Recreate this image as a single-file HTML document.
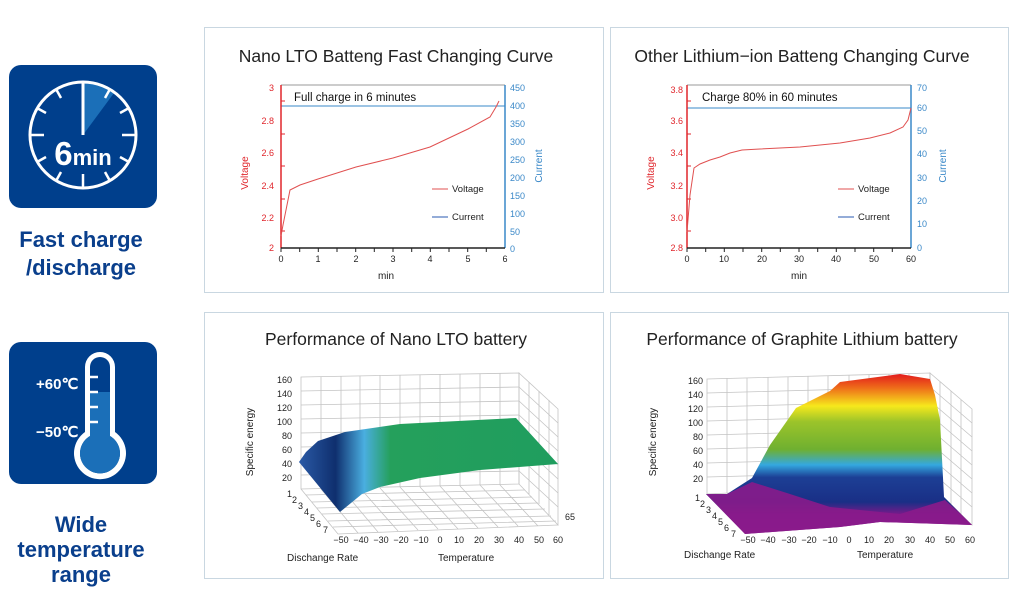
<!DOCTYPE html>
<html><head><meta charset="utf-8"><style>
html,body{margin:0;padding:0;background:#fff;}
body{width:1024px;height:600px;position:relative;overflow:hidden;font-family:"Liberation Sans",Arial,sans-serif;}
svg{position:absolute;left:0;top:0;}
</style></head><body>
<svg width="1024" height="600" viewBox="0 0 1024 600" font-family="Liberation Sans, Arial, sans-serif">
<defs>
<linearGradient id="g3" x1="299" y1="0" x2="560" y2="0" gradientUnits="userSpaceOnUse">
<stop offset="0" stop-color="#2a5aa6"/><stop offset="0.14" stop-color="#0f2f6e"/><stop offset="0.25" stop-color="#4aaee0"/><stop offset="0.35" stop-color="#25a05c"/><stop offset="1" stop-color="#1f9d5e"/>
</linearGradient>
<linearGradient id="g4" x1="0" y1="375" x2="0" y2="530" gradientUnits="userSpaceOnUse">
<stop offset="0" stop-color="#e3201c"/><stop offset="0.08" stop-color="#ee6a1a"/><stop offset="0.2" stop-color="#f6e81c"/><stop offset="0.3" stop-color="#9cc42a"/><stop offset="0.48" stop-color="#6fb030"/><stop offset="0.58" stop-color="#34a8e0"/><stop offset="0.66" stop-color="#1c3f95"/><stop offset="0.82" stop-color="#1a2f86"/><stop offset="0.9" stop-color="#7a1a8a"/><stop offset="1" stop-color="#8c1a8c"/>
</linearGradient>
</defs>

<!-- left icons -->
<rect x="9" y="65" width="148" height="143" rx="12" fill="#003f8c"/>
<path d="M83 135 L83 83 A52 52 0 0 1 114 93 Z" fill="#1b6fb8"/>
<circle cx="83" cy="135" r="53" fill="none" stroke="#fff" stroke-width="3"/>
<line x1="83" y1="83" x2="83" y2="135" stroke="#fff" stroke-width="3"/>
<g stroke="#fff" stroke-width="2.5">
<line x1="83" y1="82" x2="83" y2="96"/><line x1="83" y1="174" x2="83" y2="188"/>
<line x1="30" y1="135" x2="44" y2="135"/><line x1="122" y1="135" x2="136" y2="135"/>
<line x1="56" y1="89" x2="61" y2="98"/><line x1="110" y1="89" x2="105" y2="98"/>
<line x1="37" y1="108" x2="46" y2="113"/><line x1="129" y1="108" x2="120" y2="113"/>
<line x1="37" y1="162" x2="46" y2="157"/><line x1="129" y1="162" x2="120" y2="157"/>
<line x1="56" y1="181" x2="61" y2="172"/><line x1="110" y1="181" x2="105" y2="172"/>
</g>
<text x="83" y="165" text-anchor="middle" fill="#fff" font-weight="bold" font-size="33">6<tspan font-size="22">min</tspan></text>
<text x="81" y="247" text-anchor="middle" fill="#0a3f8c" font-weight="bold" font-size="22">Fast charge</text>
<text x="81" y="275" text-anchor="middle" fill="#0a3f8c" font-weight="bold" font-size="22">/discharge</text>

<rect x="9" y="342" width="148" height="142" rx="12" fill="#003f8c"/>
<path d="M85 367 A15 15 0 0 1 115 367 L115 432 A26 26 0 1 1 85 432 Z" fill="#fff"/>
<path d="M90 367 A10 10 0 0 1 110 367 L110 436 A20 20 0 1 1 90 436 Z" fill="#003f8c"/>
<path d="M90 392 L110 392 L110 436 A20 20 0 1 1 90 436 Z" fill="#1b6fb8"/>
<g stroke="#fff" stroke-width="2.5"><line x1="88" y1="377" x2="98" y2="377"/><line x1="88" y1="392" x2="98" y2="392"/><line x1="88" y1="407" x2="98" y2="407"/><line x1="88" y1="422" x2="98" y2="422"/></g>
<text x="36" y="389" fill="#fff" font-weight="bold" font-size="15">+60℃</text>
<text x="36" y="437" fill="#fff" font-weight="bold" font-size="15">−50℃</text>
<text x="81" y="532" text-anchor="middle" fill="#0a3f8c" font-weight="bold" font-size="22">Wide</text>
<text x="81" y="557" text-anchor="middle" fill="#0a3f8c" font-weight="bold" font-size="22">temperature</text>
<text x="81" y="582" text-anchor="middle" fill="#0a3f8c" font-weight="bold" font-size="22">range</text>

<!-- panels -->
<g fill="#fff" stroke="#c9d7e1" stroke-width="1">
<rect x="204.5" y="27.5" width="399" height="265"/><rect x="610.5" y="27.5" width="398" height="265"/>
<rect x="204.5" y="312.5" width="399" height="266"/><rect x="610.5" y="312.5" width="398" height="266"/>
</g>

<!-- chart 1 -->
<text x="396" y="62" text-anchor="middle" font-size="17.5" fill="#222">Nano LTO Batteng Fast Changing Curve</text>
<line x1="281" y1="85" x2="505" y2="85" stroke="#bbb" stroke-width="1.5"/>
<line x1="281" y1="106" x2="505" y2="106" stroke="#3a88c8" stroke-width="1"/>
<text x="294" y="101" font-size="11.5" fill="#111">Full charge in 6 minutes</text>
<line x1="281" y1="85" x2="281" y2="248" stroke="#e0262c" stroke-width="1.5"/>
<line x1="505" y1="85" x2="505" y2="248" stroke="#3a88c8" stroke-width="1.5"/>
<line x1="281" y1="248" x2="505" y2="248" stroke="#222" stroke-width="1.5"/>
<g font-size="9" fill="#e0262c" text-anchor="end">
<text x="274" y="91">3</text><text x="274" y="124">2.8</text><text x="274" y="156">2.6</text><text x="274" y="189">2.4</text><text x="274" y="221">2.2</text><text x="274" y="251">2</text>
</g>
<g stroke="#e0262c" stroke-width="1"><line x1="281" y1="101" x2="285" y2="101"/><line x1="281" y1="134" x2="285" y2="134"/><line x1="281" y1="166" x2="285" y2="166"/><line x1="281" y1="199" x2="285" y2="199"/><line x1="281" y1="231" x2="285" y2="231"/></g>
<g font-size="9" fill="#3a88c8">
<text x="510" y="91">450</text><text x="510" y="109">400</text><text x="510" y="127">350</text><text x="510" y="145">300</text><text x="510" y="163">250</text><text x="510" y="181">200</text><text x="510" y="199">150</text><text x="510" y="217">100</text><text x="510" y="235">50</text><text x="510" y="252">0</text>
</g>
<g stroke="#222"><line x1="281" y1="248" x2="281" y2="252"/><line x1="299.7" y1="248" x2="299.7" y2="252"/><line x1="318.3" y1="248" x2="318.3" y2="252"/><line x1="337" y1="248" x2="337" y2="252"/><line x1="355.7" y1="248" x2="355.7" y2="252"/><line x1="374.3" y1="248" x2="374.3" y2="252"/><line x1="393" y1="248" x2="393" y2="252"/><line x1="411.7" y1="248" x2="411.7" y2="252"/><line x1="430.3" y1="248" x2="430.3" y2="252"/><line x1="449" y1="248" x2="449" y2="252"/><line x1="467.7" y1="248" x2="467.7" y2="252"/><line x1="486.3" y1="248" x2="486.3" y2="252"/></g>
<g font-size="9" fill="#222" text-anchor="middle"><text x="281" y="262">0</text><text x="318" y="262">1</text><text x="356" y="262">2</text><text x="393" y="262">3</text><text x="430" y="262">4</text><text x="468" y="262">5</text><text x="505" y="262">6</text></g>
<text x="386" y="279" text-anchor="middle" font-size="10" fill="#222">min</text>
<text transform="translate(248,173) rotate(-90)" text-anchor="middle" font-size="10" fill="#e0262c">Voltage</text>
<text transform="translate(542,166) rotate(-90)" text-anchor="middle" font-size="10" fill="#3a88c8">Current</text>
<line x1="432" y1="189" x2="448" y2="189" stroke="#e05050"/><text x="452" y="192" font-size="9.5" fill="#222">Voltage</text>
<line x1="432" y1="217" x2="448" y2="217" stroke="#2a5ab0"/><text x="452" y="220" font-size="9.5" fill="#222">Current</text>
<path d="M281 236 L283 225 L288 200 L290 190 L300 185 L318 179 L356 167 L393 158 L430 147 L468 129 L490 117 L496 107 L499 101" fill="none" stroke="#e05050" stroke-width="1"/>

<!-- chart 2 -->
<text x="802" y="62" text-anchor="middle" font-size="17.5" fill="#222">Other Lithium−ion Batteng Changing Curve</text>
<line x1="687" y1="85" x2="911" y2="85" stroke="#bbb" stroke-width="1.5"/>
<line x1="687" y1="108" x2="911" y2="108" stroke="#3a88c8" stroke-width="1"/>
<text x="702" y="101" font-size="11.5" fill="#111">Charge 80% in 60 minutes</text>
<line x1="687" y1="85" x2="687" y2="248" stroke="#e0262c" stroke-width="1.5"/>
<line x1="911" y1="85" x2="911" y2="248" stroke="#3a88c8" stroke-width="1.5"/>
<line x1="687" y1="248" x2="911" y2="248" stroke="#222" stroke-width="1.5"/>
<g font-size="9" fill="#e0262c" text-anchor="end">
<text x="683" y="93">3.8</text><text x="683" y="124">3.6</text><text x="683" y="156">3.4</text><text x="683" y="189">3.2</text><text x="683" y="221">3.0</text><text x="683" y="251">2.8</text>
</g>
<g stroke="#e0262c"><line x1="687" y1="101" x2="691" y2="101"/><line x1="687" y1="134" x2="691" y2="134"/><line x1="687" y1="166" x2="691" y2="166"/><line x1="687" y1="199" x2="691" y2="199"/><line x1="687" y1="231" x2="691" y2="231"/></g>
<g font-size="9" fill="#3a88c8">
<text x="917" y="91">70</text><text x="917" y="111">60</text><text x="917" y="134">50</text><text x="917" y="157">40</text><text x="917" y="181">30</text><text x="917" y="204">20</text><text x="917" y="227">10</text><text x="917" y="251">0</text>
</g>
<g stroke="#222"><line x1="687" y1="248" x2="687" y2="252"/><line x1="705.7" y1="248" x2="705.7" y2="252"/><line x1="724.3" y1="248" x2="724.3" y2="252"/><line x1="743" y1="248" x2="743" y2="252"/><line x1="761.7" y1="248" x2="761.7" y2="252"/><line x1="780.3" y1="248" x2="780.3" y2="252"/><line x1="799" y1="248" x2="799" y2="252"/><line x1="817.7" y1="248" x2="817.7" y2="252"/><line x1="836.3" y1="248" x2="836.3" y2="252"/><line x1="855" y1="248" x2="855" y2="252"/><line x1="873.7" y1="248" x2="873.7" y2="252"/><line x1="892.3" y1="248" x2="892.3" y2="252"/></g>
<g font-size="9" fill="#222" text-anchor="middle"><text x="687" y="262">0</text><text x="724" y="262">10</text><text x="762" y="262">20</text><text x="799" y="262">30</text><text x="836" y="262">40</text><text x="874" y="262">50</text><text x="911" y="262">60</text></g>
<text x="799" y="279" text-anchor="middle" font-size="10" fill="#222">min</text>
<text transform="translate(654,173) rotate(-90)" text-anchor="middle" font-size="10" fill="#e0262c">Voltage</text>
<text transform="translate(946,166) rotate(-90)" text-anchor="middle" font-size="10" fill="#3a88c8">Current</text>
<line x1="838" y1="189" x2="854" y2="189" stroke="#e05050"/><text x="858" y="192" font-size="9.5" fill="#222">Voltage</text>
<line x1="838" y1="217" x2="854" y2="217" stroke="#2a5ab0"/><text x="858" y="220" font-size="9.5" fill="#222">Current</text>
<path d="M687 232 L690 195 L694 168 L700 164 L710 160 L720 157 L730 153 L742 150 L760 149 L800 147 L840 143 L870 138 L890 133 L903 127 L908 120 L911 108" fill="none" stroke="#e05050" stroke-width="1"/>

<!-- chart 3 (3D) -->
<text x="396" y="345" text-anchor="middle" font-size="17.5" fill="#222">Performance of Nano LTO battery</text>
<g stroke="#c4c4c4" stroke-width="0.8" fill="none">
<path d="M301 377 L519 373 L519 484 L301 489 Z"/>
<path d="M301 391 L519 387 M301 405 L519 401 M301 419 L519 415 M301 433 L519 429 M301 447 L519 443 M301 461 L519 457 M301 475 L519 471"/>
<path d="M321 377 V489 M341 376 V488 M360 376 V488 M380 375 V488 M400 375 V487 M420 375 V487 M440 374 V486 M460 374 V486 M480 374 V485 M500 373 V485"/>
<path d="M519 373 L558 409 L558 525 L519 484 Z"/>
<path d="M519 387 L558 423 M519 401 L558 437 M519 415 L558 451 M519 429 L558 465 M519 443 L558 479 M519 457 L558 493 M519 471 L558 507"/>
<path d="M529 382 V494 M539 391 V504 M549 400 V515"/>
<path d="M301 489 L338 534 L558 525 M321 489 L358 533 M341 488 L378 532 M360 488 L398 531 M380 488 L418 530 M400 487 L438 529 M420 487 L458 529 M440 486 L478 528 M460 486 L498 527 M480 485 L518 526 M500 485 L538 526"/>
<path d="M306 495 L525 490 M312 502 L532 497 M317 508 L538 503 M322 514 L545 509 M328 521 L551 516 M333 527 L556 521"/>
</g>
<path d="M299 462 L306 452 L318 441 L345 432 L400 424 L516 418 L558 464 L480 470 L420 478 L380 487 L362 494 L340 512 Z" fill="url(#g3)"/>
<g font-size="9" fill="#222" text-anchor="end">
<text x="292" y="383">160</text><text x="292" y="397">140</text><text x="292" y="411">120</text><text x="292" y="425">100</text><text x="292" y="439">80</text><text x="292" y="453">60</text><text x="292" y="467">40</text><text x="292" y="481">20</text>
</g>
<g font-size="9" fill="#222"><text x="287" y="497">1</text><text x="292" y="503">2</text><text x="298" y="509">3</text><text x="304" y="515">4</text><text x="310" y="521">5</text><text x="316" y="527">6</text><text x="323" y="533">7</text></g>
<text x="565" y="520" font-size="9" fill="#222">65</text>
<g font-size="9" fill="#222" text-anchor="middle"><text x="341" y="543">−50</text><text x="361" y="543">−40</text><text x="381" y="543">−30</text><text x="401" y="543">−20</text><text x="421" y="543">−10</text><text x="440" y="543">0</text><text x="459" y="543">10</text><text x="479" y="543">20</text><text x="499" y="543">30</text><text x="519" y="543">40</text><text x="539" y="543">50</text><text x="558" y="543">60</text></g>
<text x="287" y="561" font-size="10" fill="#222">Dischange Rate</text>
<text x="438" y="561" font-size="10" fill="#222">Temperature</text>
<text transform="translate(253,442) rotate(-90)" text-anchor="middle" font-size="10" fill="#222">Specific energy</text>

<!-- chart 4 (3D) -->
<text x="802" y="345" text-anchor="middle" font-size="17.5" fill="#222">Performance of Graphite Lithium battery</text>
<g stroke="#c4c4c4" stroke-width="0.8" fill="none">
<path d="M707 379 L930 373 L930 484 L707 494 Z"/>
<path d="M707 393 L930 387 M707 407 L930 401 M707 421 L930 415 M707 435 L930 429 M707 449 L930 443 M707 463 L930 457 M707 477 L930 471"/>
<path d="M727 378 V493 M747 378 V492 M768 377 V491 M788 377 V490 M808 376 V489 M828 376 V488 M849 375 V488 M869 375 V487 M889 374 V486 M909 374 V485"/>
<path d="M930 373 L972 409 L972 525 L930 484 Z"/>
<path d="M930 387 L972 423 M930 401 L972 437 M930 415 L972 451 M930 429 L972 465 M930 443 L972 479 M930 457 L972 493 M930 471 L972 507"/>
<path d="M940 382 V494 M951 391 V504 M961 400 V515"/>
</g>
<path d="M706 494 L727 494 L752 478 L770 445 L796 408 L830 391 L840 382 L900 374 L930 379 L935 395 L940 420 L944 497 L972 525 L880 522 L840 527 L745 534 Z" fill="url(#g4)"/>
<path d="M706 494 L727 494 L752 482 L790 494 L830 507 L900 514 L945 500 L972 525 L880 522 L840 527 L745 534 Z" fill="#8a1b8b" opacity="0.9"/>
<g font-size="9" fill="#222" text-anchor="end">
<text x="703" y="384">160</text><text x="703" y="398">140</text><text x="703" y="412">120</text><text x="703" y="426">100</text><text x="703" y="440">80</text><text x="703" y="454">60</text><text x="703" y="468">40</text><text x="703" y="482">20</text>
</g>
<g font-size="9" fill="#222"><text x="695" y="501">1</text><text x="700" y="507">2</text><text x="706" y="513">3</text><text x="712" y="519">4</text><text x="718" y="525">5</text><text x="724" y="531">6</text><text x="731" y="537">7</text></g>
<g font-size="9" fill="#222" text-anchor="middle"><text x="748" y="543">−50</text><text x="768" y="543">−40</text><text x="789" y="543">−30</text><text x="809" y="543">−20</text><text x="830" y="543">−10</text><text x="849" y="543">0</text><text x="869" y="543">10</text><text x="889" y="543">20</text><text x="910" y="543">30</text><text x="930" y="543">40</text><text x="950" y="543">50</text><text x="970" y="543">60</text></g>
<text x="684" y="558" font-size="10" fill="#222">Dischange Rate</text>
<text x="857" y="558" font-size="10" fill="#222">Temperature</text>
<text transform="translate(656,442) rotate(-90)" text-anchor="middle" font-size="10" fill="#222">Specific energy</text>
</svg>
</body></html>
